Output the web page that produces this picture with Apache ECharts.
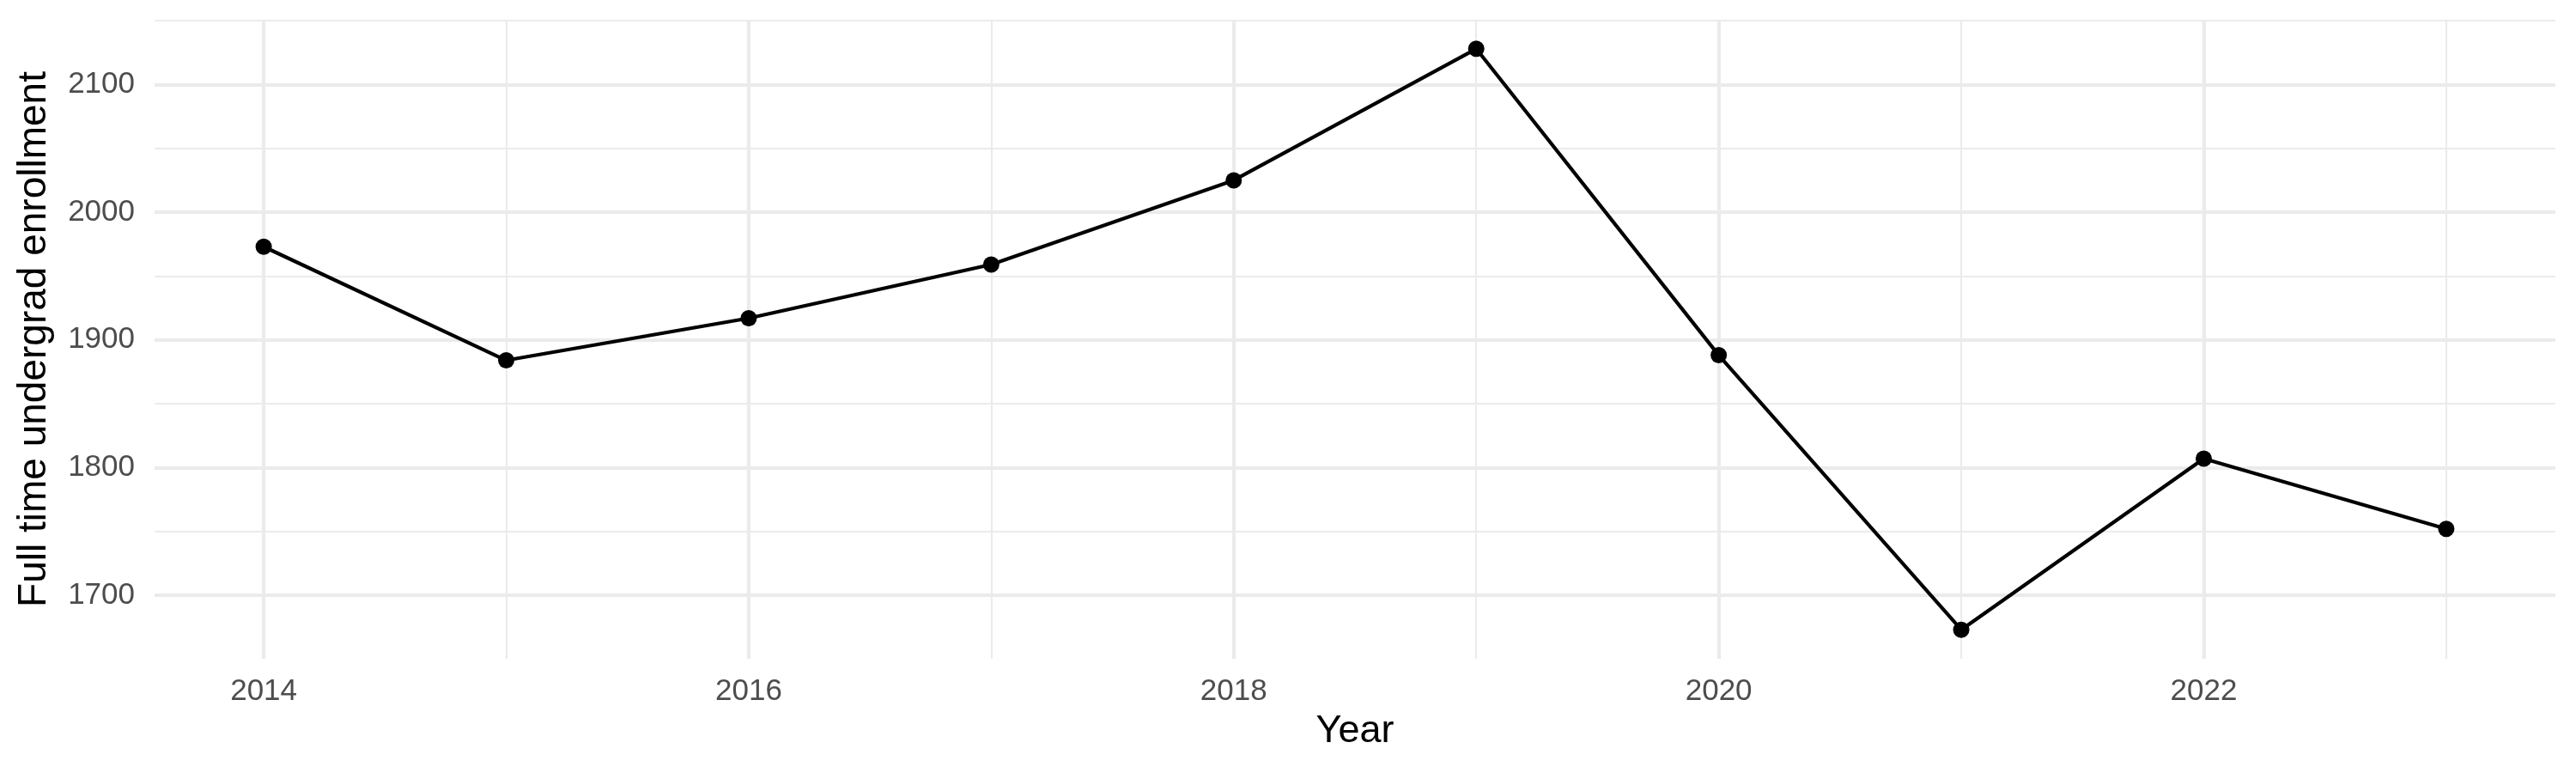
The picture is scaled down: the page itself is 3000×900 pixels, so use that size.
<!DOCTYPE html>
<html>
<head>
<meta charset="utf-8">
<script src="https://cdn.jsdelivr.net/npm/echarts@6/dist/echarts.min.js"></script>
<style>
html,body{margin:0;padding:0;background:#fff;}
#chart{width:3000px;height:900px;}
</style>
</head>
<body>
<div id="chart"></div>
<script>
const years = [2014, 2015, 2016, 2017, 2018, 2019, 2020, 2021, 2022, 2023];
const enrollment = [1973, 1884, 1917, 1959, 2025, 2128, 1888, 1673, 1807, 1752];
const xMajorTicks = [2014, 2016, 2018, 2020, 2022];
const xMinorTicks = [2015, 2017, 2019, 2021, 2023];
const yMajorTicks = [1700, 1800, 1900, 2000, 2100];
const yMinorTicks = [1750, 1850, 1950, 2050, 2150];
const xTitle = 'Year';
const yTitle = 'Full time undergrad enrollment';

const FONT = 'Liberation Sans';
const GRID = '#EBEBEB';
const xMin = 2013.55, xMax = 2023.45;
const yMin = 1650.25, yMax = 2150.75;

function axisBase(min, max){
  return {
    type: 'value', min: min, max: max, gridIndex: 0,
    axisLine: {show: false},
    axisTick: {show: false},
    minorTick: {show: false},
  };
}

const chart = echarts.init(document.getElementById('chart'), null, {renderer: 'canvas'});
chart.setOption({
  animation: false,
  backgroundColor: '#ffffff',
  grid: {left: 180, right: 24, top: 23, bottom: 133, outerBoundsMode: 'none', containLabel: false},
  xAxis: [
    Object.assign(axisBase(xMin, xMax), {
      position: 'bottom',
      axisTick: {show: false, customValues: xMajorTicks},
      axisLabel: {show: true, customValues: xMajorTicks, color: '#4D4D4D', fontFamily: FONT, fontSize: 35, margin: 21,
        formatter: v => String(v)},
      splitLine: {show: true, lineStyle: {color: GRID, width: 4.2}},
      name: xTitle, nameLocation: 'middle', nameGap: 62,
      nameTextStyle: {color: '#000', fontFamily: FONT, fontSize: 45}
    }),
    Object.assign(axisBase(xMin, xMax), {
      position: 'bottom',
      axisTick: {show: false, customValues: xMinorTicks},
      axisLabel: {show: false, customValues: xMinorTicks},
      splitLine: {show: true, lineStyle: {color: GRID, width: 2.1}}
    })
  ],
  yAxis: [
    Object.assign(axisBase(yMin, yMax), {
      position: 'left',
      axisTick: {show: false, customValues: yMajorTicks},
      axisLabel: {show: true, customValues: yMajorTicks, color: '#4D4D4D', fontFamily: FONT, fontSize: 35, margin: 23,
        formatter: v => String(v)},
      splitLine: {show: true, lineStyle: {color: GRID, width: 4.2}},
      name: yTitle, nameLocation: 'middle', nameGap: 117, nameRotate: 90,
      nameTextStyle: {color: '#000', fontFamily: FONT, fontSize: 46}
    }),
    Object.assign(axisBase(yMin, yMax), {
      position: 'left',
      axisTick: {show: false, customValues: yMinorTicks},
      axisLabel: {show: false, customValues: yMinorTicks},
      splitLine: {show: true, lineStyle: {color: GRID, width: 2.1}}
    })
  ],
  series: [{
    type: 'line',
    xAxisIndex: 0, yAxisIndex: 0,
    data: years.map((y, i) => [y, enrollment[i]]),
    symbol: 'circle', symbolSize: 19,
    showAllSymbol: true,
    itemStyle: {color: '#000'},
    lineStyle: {color: '#000', width: 4.2},
    z: 10
  }]
});
</script>
</body>
</html>
